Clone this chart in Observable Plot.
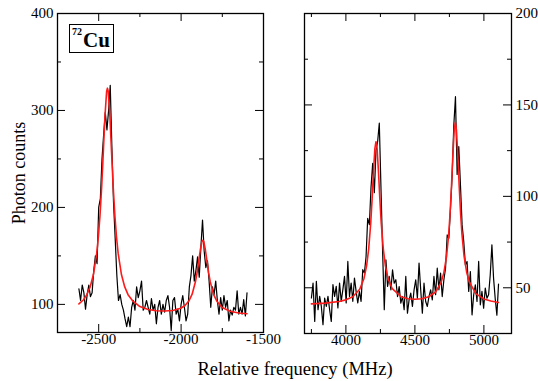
<!DOCTYPE html>
<html><head><meta charset="utf-8">
<script src="https://cdn.jsdelivr.net/npm/d3@7"></script>
<script src="https://cdn.jsdelivr.net/npm/@observablehq/plot@0.6"></script>
<style>
body{margin:0;background:#fff;}
#chart{position:relative;width:538px;height:381px;font-family:"Liberation Serif","Times New Roman",serif;color:#000;}
#chart svg{position:absolute;top:0;overflow:visible;}
#xlabel{position:absolute;left:145px;width:300px;top:359.5px;text-align:center;font-size:18.5px;line-height:18px;white-space:nowrap;}
#tag{position:absolute;left:69px;top:24px;width:43px;height:27px;border:1px solid #000;box-sizing:content-box;}
#tag .a{position:absolute;left:2px;top:2px;font-size:10px;line-height:10px;font-weight:bold;}
#tag .b{position:absolute;left:13px;top:5px;font-size:21px;line-height:21px;font-weight:bold;}
</style></head>
<body>
<div id="chart">
  <div id="xlabel">Relative frequency (MHz)</div>
  <div id="tag"><span class="a">72</span><span class="b">Cu</span></div>
</div>
<script>
const freqL = [-2620,-2610,-2600,-2590,-2580,-2570,-2560,-2550,-2540,-2530,-2520,-2510,-2500,-2490,-2480,-2470,-2460,-2450,-2440,-2430,-2420,-2410,-2400,-2390,-2380,-2370,-2360,-2350,-2340,-2330,-2320,-2310,-2300,-2290,-2280,-2270,-2260,-2250,-2240,-2230,-2220,-2210,-2200,-2190,-2180,-2170,-2160,-2150,-2140,-2130,-2120,-2110,-2100,-2090,-2080,-2070,-2060,-2050,-2040,-2030,-2020,-2010,-2000,-1990,-1980,-1970,-1960,-1950,-1940,-1930,-1920,-1910,-1900,-1890,-1880,-1870,-1860,-1850,-1840,-1830,-1820,-1810,-1800,-1790,-1780,-1770,-1760,-1750,-1740,-1730,-1720,-1710,-1700,-1690,-1680,-1670,-1660,-1650,-1640,-1630,-1620,-1610,-1600];
const countsL = [116,104,120,112,95,110,120,108,112,135,150,142,200,209,250,275,298,280,300,326,262,205,168,130,104,110,100,94,85,77,87,77,97,104,94,118,107,114,124,94,97,104,97,90,106,94,100,80,97,104,90,100,92,104,109,97,73,104,107,90,95,83,100,109,97,83,90,118,130,150,124,135,149,128,159,187,155,138,145,124,97,118,110,124,104,90,107,94,109,97,104,83,94,89,97,94,114,90,97,90,105,88,112];
const fitFreqL = [-2620,-2592,-2572,-2552,-2532,-2512,-2502,-2492,-2482,-2472,-2462,-2452,-2447,-2442,-2432,-2422,-2412,-2402,-2392,-2382,-2362,-2342,-2322,-2292,-2250,-2200,-2150,-2100,-2050,-2003,-1978,-1953,-1933,-1913,-1903,-1893,-1883,-1873,-1868,-1863,-1853,-1843,-1833,-1823,-1803,-1783,-1753,-1703,-1650,-1600];
const fitCountsL = [100.5,104.8,110,118,130.8,152.8,169.5,191.9,221,257,294,319.6,323,319.6,294,257,221,192,169.5,152.8,130.8,118,110,103.3,97.8,94.7,93.5,93.1,93.7,96,98.6,103.4,110.5,123.3,132.8,144.6,156.6,165,166.1,164.9,156.6,144.6,132.7,123.2,110.3,103.2,97,92.9,91.1,90.3];

const freqR = [3750,3762,3774,3786,3798,3810,3822,3834,3846,3858,3870,3882,3894,3906,3918,3930,3942,3954,3966,3978,3990,4002,4014,4026,4038,4050,4062,4074,4086,4098,4110,4122,4134,4146,4158,4170,4182,4194,4206,4218,4230,4242,4254,4266,4278,4290,4302,4314,4326,4338,4350,4362,4374,4386,4398,4410,4422,4434,4446,4458,4470,4482,4494,4506,4518,4530,4542,4554,4566,4578,4590,4602,4614,4626,4638,4650,4662,4674,4686,4698,4710,4722,4734,4746,4758,4770,4782,4794,4806,4818,4830,4842,4854,4866,4878,4890,4902,4914,4926,4938,4950,4962,4974,4986,4998,5010,5022,5034,5046,5058,5070,5082,5094,5106];
const countsR = [44.4,52.6,31.6,53.5,38,45.3,39.8,29.8,44.4,39.8,45.3,38,31.6,51.7,45.3,50.8,39,52.6,42.6,49,56.2,41.7,64.4,45.3,52.6,42.6,55.3,48,41.7,48,42.6,59.9,58.1,
67,88,84.5,105,118,102,125,130,140,105,70,38,
65.3,50.7,56.2,48.9,59.8,52.5,54.4,45.2,50.7,41.6,45.2,38,56.2,36.1,43.4,47.1,39.8,48.9,54.4,44.3,63.5,48.9,36.1,52.5,42.5,39.8,45.2,48.9,43.4,56.2,46.2,60.7,48.9,58,45.2,54.4,60.7,
78.9,77.1,93.5,111.7,139,154.5,112,127.2,106.3,84.4,75.3,62.5,64.4,48,58.9,35.2,46.2,51.6,42.5,64.4,40.7,48,38.9,49.8,44.3,46.2,57.1,73.5,55.3,44,35,52];
const fitFreqR = [3750,3850,3950,4000,4050,4100,4130,4150,4165,4180,4190,4200,4210,4218,4226,4236,4246,4256,4271,4286,4306,4336,4400,4450,4500,4550,4600,4650,4690,4710,4730,4745,4755,4765,4775,4785,4793,4801,4811,4821,4831,4841,4856,4876,4896,4943,5000,5050,5106];
const fitCountsR = [41.2,41.6,42.5,43.4,45.1,49.2,54.8,62.0,71.1,85.4,98.6,113.6,126.1,129.9,126.1,113.6,98.6,85.4,71.3,62.1,54.9,49.5,45.1,44.0,43.7,44.0,45.1,47.7,53.0,58.3,67.5,79.3,90.8,105.5,122.3,136.3,140.4,136.3,122.3,105.5,90.8,79.3,67.5,58.2,52.9,46.7,43.9,42.8,42.0];

const xMajorL = [-2500,-2000,-1500], xMinorL = [-2750,-2250,-1750];
const yMajorL = [100,200,300,400], yMinorL = [150,250,350];
const xMajorR = [4000,4500,5000], xMinorR = [3750,4250,4750];
const yMajorR = [50,100,150,200], yMinorR = [75,125,175];

function panel(o) {
  const H = 381, mt = 13;
  const ih = H - mt - o.mb, iw = o.width - o.ml - o.mr;
  const data = o.freq.map((f, i) => ({f, c: o.counts[i]}));
  const fit = o.fitFreq.map((f, i) => ({f, c: o.fitCounts[i]}));
  const tx = (vals, len) => [
    Plot.tickX(vals, {x: d => d, insetTop: ih - len, stroke: "black"}),
    Plot.tickX(vals, {x: d => d, insetBottom: ih - len, stroke: "black"})
  ];
  const ty = (vals, len) => [
    Plot.tickY(vals, {y: d => d, insetRight: iw - len, stroke: "black"}),
    Plot.tickY(vals, {y: d => d, insetLeft: iw - len, stroke: "black"})
  ];
  const svg = Plot.plot({
    width: o.width, height: H,
    marginLeft: o.ml, marginRight: o.mr, marginTop: mt, marginBottom: o.mb,
    x: {domain: o.xDomain},
    y: {domain: o.yDomain},
    style: {fontFamily: "Liberation Serif, Times New Roman, serif", fontSize: "15px", background: "none", overflow: "visible", color: "black"},
    marks: [
      Plot.axisX(o.xMajor, {tickSize: 0, tickPadding: 1, tickFormat: d => String(d), label: null, fontSize: 15}),
      Plot.axisY(o.yMajor, {anchor: o.yAnchor, tickSize: 0, tickPadding: 4, tickFormat: d => String(d), label: null, fontSize: 15}),
      ...tx(o.xMajor, 8), ...tx(o.xMinor, 4),
      ...ty(o.yMajor, 8), ...ty(o.yMinor, 4),
      Plot.line(data, {x: "f", y: "c", stroke: "black", strokeWidth: 1.2}),
      Plot.line(fit, {x: "f", y: "c", stroke: "#ff1a1a", strokeWidth: 1.6}),
      Plot.frame({stroke: "black", strokeWidth: 1.3}),
      ...(o.extra || [])
    ]
  });
  svg.style.left = o.left + "px";
  return svg;
}

const chart = document.getElementById("chart");
chart.appendChild(panel({
  left: 270, width: 268, ml: 34, mr: 27, mb: 48,
  xDomain: [3700, 5200], yDomain: [25, 200],
  freq: freqR, counts: countsR, fitFreq: fitFreqR, fitCounts: fitCountsR,
  xMajor: xMajorR, xMinor: xMinorR, yMajor: yMajorR, yMinor: yMinorR, yAnchor: "right"
}));
chart.appendChild(panel({
  left: 0, width: 270, ml: 57, mr: 7, mb: 49,
  xDomain: [-2750, -1500], yDomain: [71, 400],
  freq: freqL, counts: countsL, fitFreq: fitFreqL, fitCounts: fitCountsL,
  xMajor: xMajorL, xMinor: xMinorL, yMajor: yMajorL, yMinor: yMinorL, yAnchor: "left",
  extra: [Plot.text(["Photon counts"], {text: d => d, frameAnchor: "left", textAnchor: "middle", rotate: -90, dx: -38, fontSize: 18, fill: "black"})]
}));
</script>
</body></html>
